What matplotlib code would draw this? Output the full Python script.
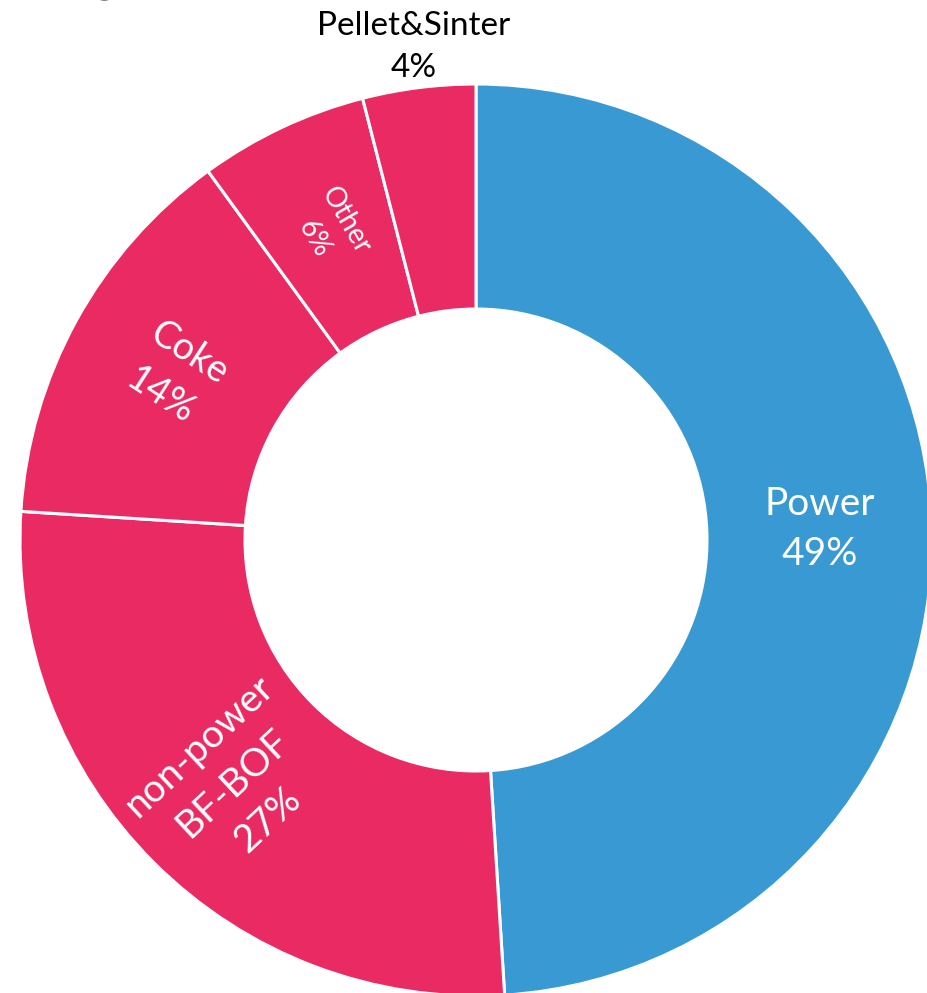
import numpy as np
import matplotlib
matplotlib.use('Agg')
import matplotlib.pyplot as plt

plt.rcParams['font.family'] = ['Lato', 'DejaVu Sans']

# share of emissions by source
categories = ['Power', 'non-power\nBF-BOF', 'Coke', 'Other', 'Pellet&Sinter']
shares = [49, 27, 14, 6, 4]

blue = '#3899D3'
pink = '#E92A63'
colors = [blue, pink, pink, pink, pink]

fig = plt.figure(figsize=(9.28, 9.93), dpi=100)
ax = fig.add_axes([0, 0, 1, 1])

R = 456
cx, cy = 476, 453
wedges, _ = ax.pie(shares, colors=colors, startangle=90, counterclock=False,
                   center=(cx, cy), radius=R,
                   wedgeprops=dict(width=R - 231, edgecolor='white', linewidth=2.2))
ax.set_xlim(0, 928)
ax.set_ylim(0, 993)
ax.axis('off')

# rotation and size of the label inside each wedge
label_rot = [0, 43, -33, -60]
label_fs = [28, 28, 27, 20]
rmid = R - (R - 231) / 2
for i, w in enumerate(wedges):
    mid = np.deg2rad((w.theta1 + w.theta2) / 2)
    txt = f'{categories[i]}\n{shares[i]}%'
    if i < 4:
        ax.text(cx + rmid * np.cos(mid), cy + rmid * np.sin(mid), txt,
                color='white', fontsize=label_fs[i], ha='center', va='center',
                rotation=label_rot[i], rotation_mode='anchor', linespacing=1.5)
    else:
        r = R * 1.09
        ax.text(cx + r * np.cos(mid), cy + r * np.sin(mid), txt,
                color='black', fontsize=24, ha='center', va='center',
                linespacing=1.5)

# tail of the heading above the chart
fig.text(105 / 928, 1.010, 'g', fontsize=36, ha='center', va='baseline',
         color='black')

fig.savefig('out.png', dpi=100)
